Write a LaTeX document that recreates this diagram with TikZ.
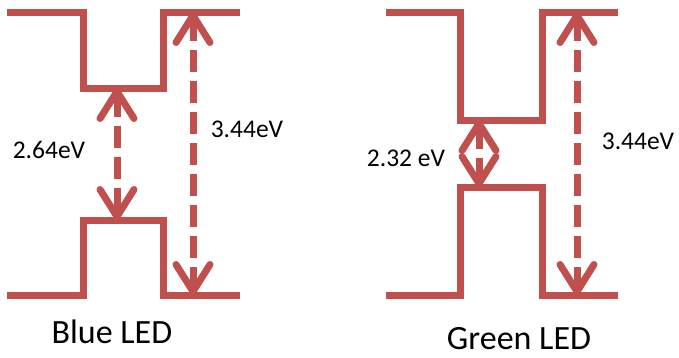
\documentclass[tikz,border=0pt]{standalone}
\usepackage{fontspec}
\setmainfont{Carlito}
\usetikzlibrary{arrows.meta}
\definecolor{ledred}{HTML}{C0504D}
\tikzset{
  level/.style={draw=ledred, line width=7pt, line join=miter},
  gap/.style={draw=ledred, line width=7pt, dash pattern=on 22pt off 9pt,
    {Straight Barb[length=27pt,width=34pt,line cap=round,line join=round]}-{Straight Barb[length=27pt,width=34pt,line cap=round,line join=round]}},
  lbl/.style={inner sep=0pt, anchor=base, font=\fontsize{25.5}{28}\selectfont},
  ledcaption/.style={inner sep=0pt, anchor=base, font=\fontsize{34}{38}\selectfont}
}
\begin{document}
\begin{tikzpicture}[x=1pt,y=-1pt]
\useasboundingbox (0,0) rectangle (679,357);
% Blue LED
\draw[level] (7,12) -- (83,12) -- (83,88) -- (163,88) -- (163,12) -- (240,12);
\draw[level] (7,295) -- (83,295) -- (83,220) -- (163,220) -- (163,295) -- (240,295);
\coordinate (bcb) at (117,88);
\coordinate (bvb) at (117,220);
\coordinate (btop) at (193,12);
\coordinate (bbot) at (193,295);
\draw[gap] (bcb) -- (bvb);
\draw[gap] (btop) -- (bbot);
\node[lbl] (b1) at (49,158) {2.64eV};
\node[lbl] (b2) at (247,137) {3.44eV};
\node[ledcaption] (bl) at (112,343) {Blue LED};
% Green LED
\draw[level] (386,12) -- (460,12) -- (460,120) -- (542,120) -- (542,12) -- (618,12);
\draw[level] (386,295) -- (460,295) -- (460,187) -- (542,187) -- (542,295) -- (618,295);
\coordinate (gcb) at (479,120);
\coordinate (gvb) at (479,187);
\coordinate (gtop) at (577,12);
\coordinate (gbot) at (577,295);
\draw[gap] (gcb) -- (gvb);
\draw[gap] (gtop) -- (gbot);
\node[lbl] (g1) at (406,166) {2.32 eV};
\node[lbl] (g2) at (638,149) {3.44eV};
\node[ledcaption] (gl) at (519,349) {Green LED};
\end{tikzpicture}
\end{document}
